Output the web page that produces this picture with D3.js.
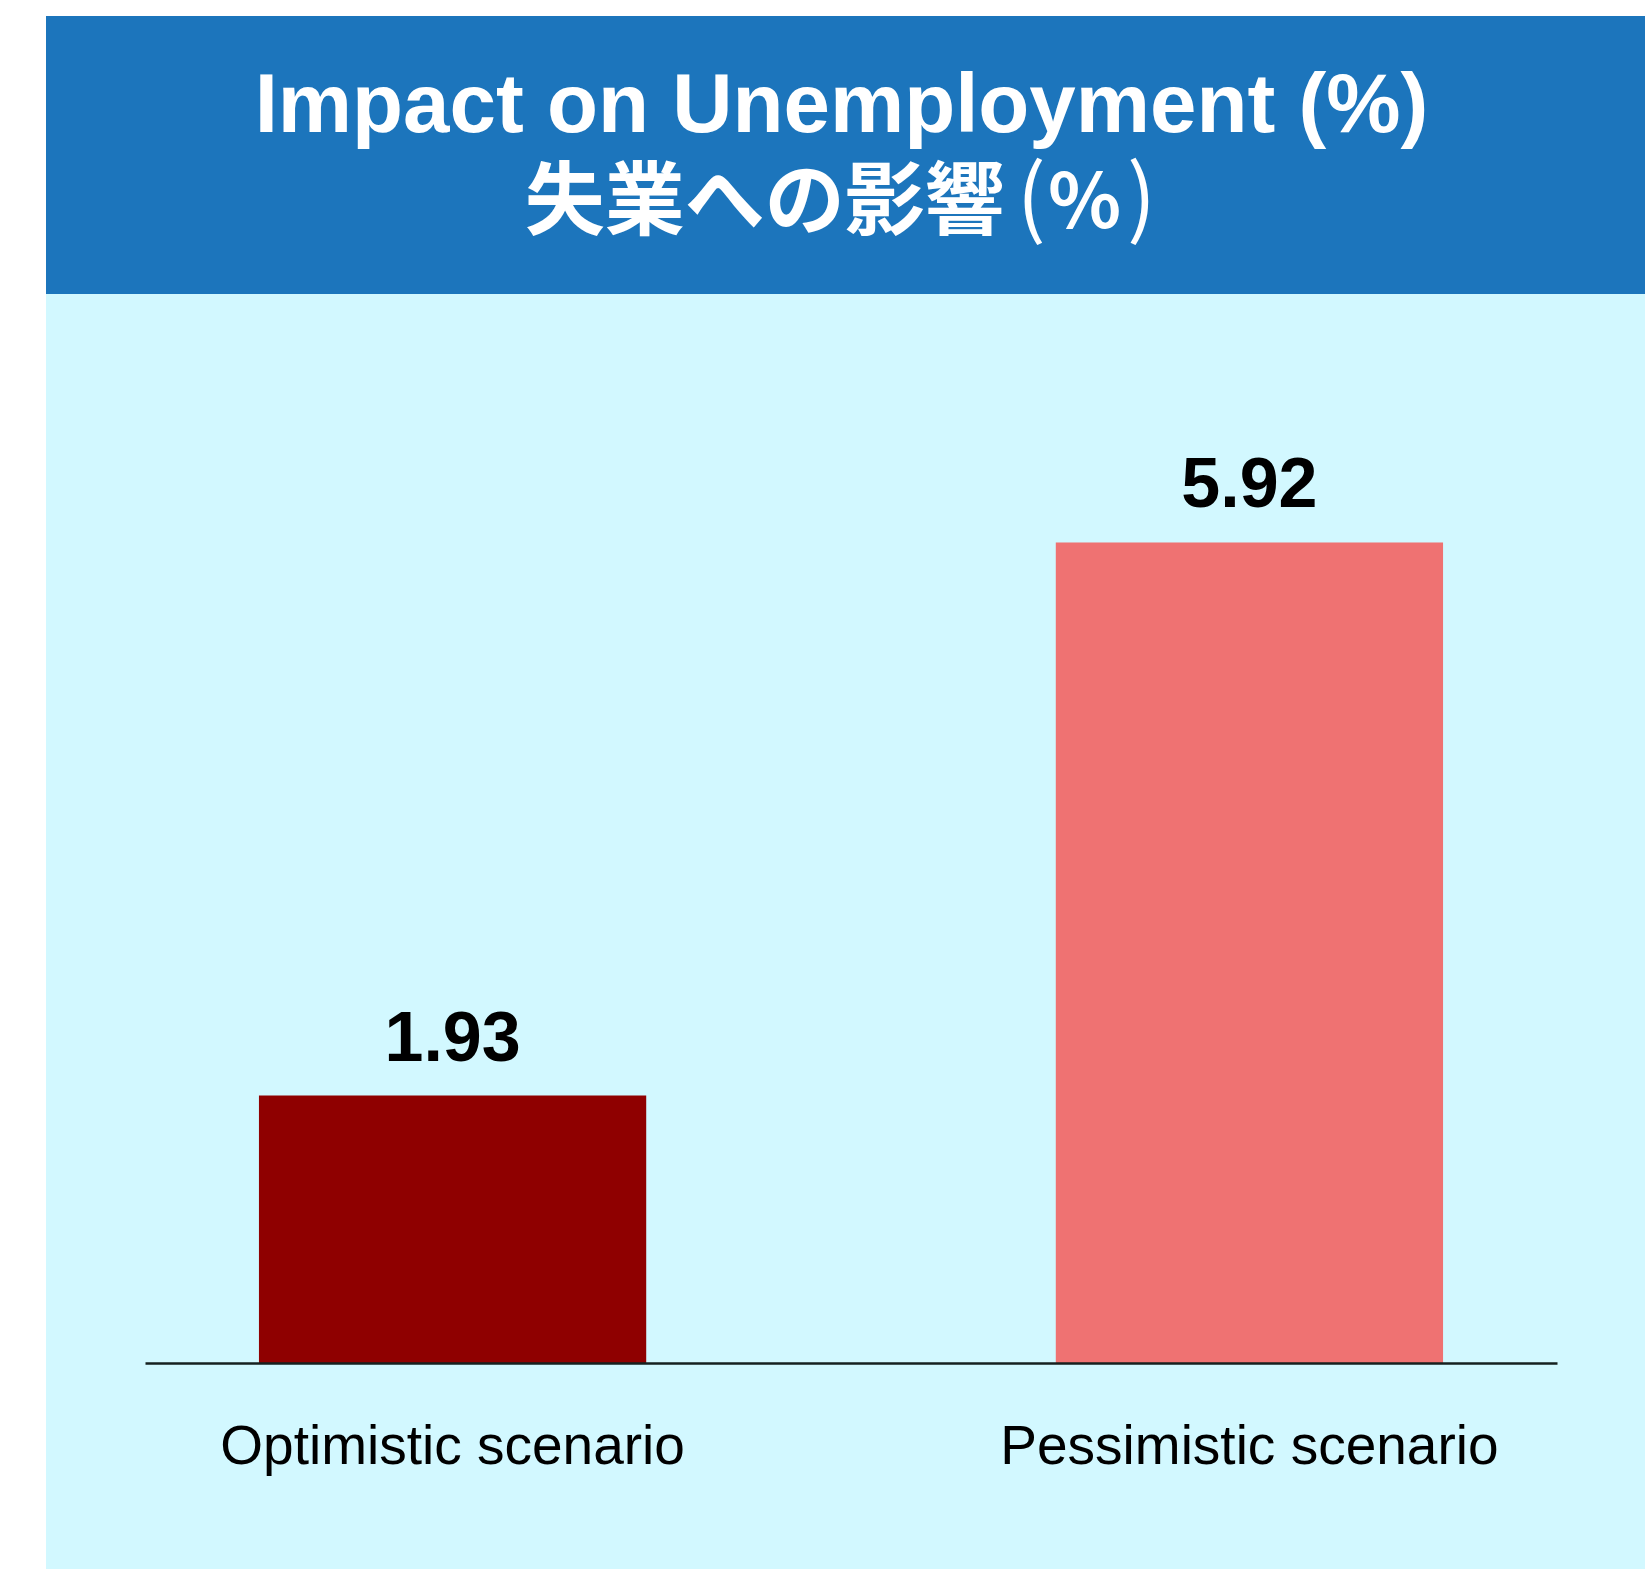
<!DOCTYPE html>
<html>
<head>
<meta charset="utf-8">
<script src="https://cdn.jsdelivr.net/npm/d3@7"></script>
<style>
  html, body { margin: 0; padding: 0; background: #ffffff; }
  svg { display: block; }
</style>
</head>
<body>
<svg id="chart" width="1645" height="1569"></svg>
<script>
// Scenario results
const categories = ["Optimistic scenario", "Pessimistic scenario"];
const values = [1.93, 5.92];
const barColors = ["#8f0000", "#ef7272"];
const titleLine1 = "Impact on Unemployment (%)";
// second title line split so the bracket glyphs can use a lighter weight
const titleLine2 = [
  { t: "失業への影響", weight: 700, size: 80, dx: 0 },
  { t: "(", weight: 400, size: 86, dx: 12 },
  { t: "%", weight: 700, size: 76, dx: 2 },
  { t: ")", weight: 400, size: 86, dx: 6 }
];

const panel = { left: 46, top: 16, right: 1645, bottom: 1569, headerBottom: 294 };
const plot = { left: 145, right: 1557, baseline: 1363 };

const svg = d3.select("#chart");

// Light panel background
svg.append("rect")
  .attr("x", panel.left).attr("y", panel.top)
  .attr("width", panel.right - panel.left).attr("height", panel.bottom - panel.top)
  .attr("fill", "#d2f8ff");

// Header band
svg.append("rect")
  .attr("x", panel.left).attr("y", panel.top)
  .attr("width", panel.right - panel.left).attr("height", panel.headerBottom - panel.top)
  .attr("fill", "#1c75bc");

const cx = (panel.left + panel.right) / 2;
svg.append("text")
  .attr("x", cx - 4).attr("y", 132)
  .attr("text-anchor", "middle")
  .attr("fill", "#ffffff")
  .style("font-family", "'Liberation Sans', Arial, Helvetica, sans-serif")
  .style("font-weight", "bold")
  .style("font-size", "83.5px")
  .text(titleLine1);

const jp = svg.append("text")
  .attr("x", cx - 5).attr("y", 228)
  .attr("text-anchor", "middle")
  .attr("fill", "#ffffff")
  .style("font-family", "'Noto Sans CJK JP', 'Noto Sans CJK SC', sans-serif")
  .style("font-size", "80px");
jp.selectAll("tspan")
  .data(titleLine2)
  .join("tspan")
  .attr("dx", d => d.dx)
  .style("font-weight", d => d.weight)
  .style("font-size", d => d.size + "px")
  .text(d => d.t);

// Scales
const x = d3.scaleBand()
  .domain(categories)
  .range([plot.left, plot.right])
  .paddingInner(0.514)
  .paddingOuter(0.143);

const y = d3.scaleLinear()
  .domain([0, 6])
  .range([plot.baseline, plot.baseline - 6 * 138.6]);

// Bars
svg.append("g").selectAll("rect")
  .data(values)
  .join("rect")
  .attr("x", (d, i) => x(categories[i]))
  .attr("y", d => y(d))
  .attr("width", x.bandwidth())
  .attr("height", d => y(0) - y(d))
  .attr("fill", (d, i) => barColors[i]);

// Value labels
svg.append("g").selectAll("text")
  .data(values)
  .join("text")
  .attr("x", (d, i) => x(categories[i]) + x.bandwidth() / 2)
  .attr("y", d => y(d) - 35)
  .attr("text-anchor", "middle")
  .attr("fill", "#000000")
  .style("font-family", "'Liberation Sans', Arial, Helvetica, sans-serif")
  .style("font-weight", "bold")
  .style("font-size", "70px")
  .text(d => d.toFixed(2));

// Category axis
const axis = svg.append("g")
  .attr("transform", `translate(0,${plot.baseline})`)
  .call(d3.axisBottom(x).tickSize(0).tickPadding(62).tickSizeOuter(0));
axis.select(".domain")
  .attr("stroke", "#15201f")
  .attr("stroke-width", 2.5);
axis.selectAll(".tick text")
  .attr("fill", "#000000")
  .style("font-family", "'Liberation Sans', Arial, Helvetica, sans-serif")
  .style("font-size", "55px");
</script>
</body>
</html>
